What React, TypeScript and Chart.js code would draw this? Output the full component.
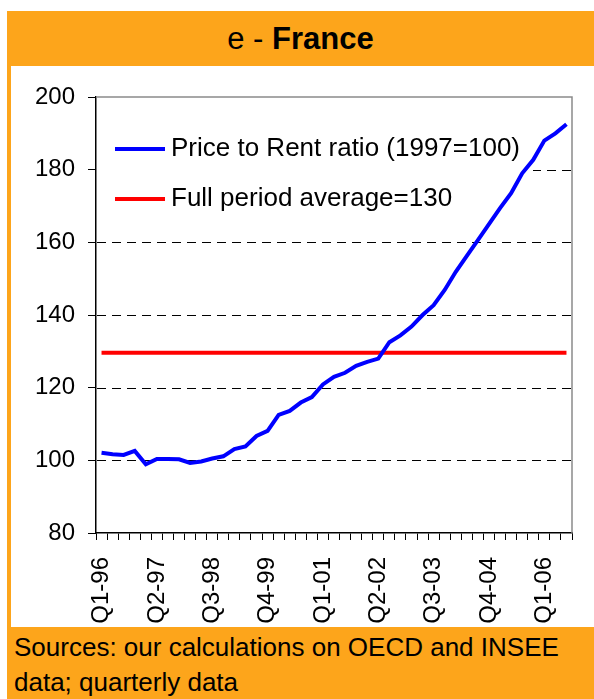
import React, { useEffect, useRef } from "react";
import { Chart, registerables } from "chart.js";

Chart.register(...registerables);

const quarterLabels = [
  "Q1-96", "Q2-96", "Q3-96", "Q4-96",
  "Q1-97", "Q2-97", "Q3-97", "Q4-97",
  "Q1-98", "Q2-98", "Q3-98", "Q4-98",
  "Q1-99", "Q2-99", "Q3-99", "Q4-99",
  "Q1-00", "Q2-00", "Q3-00", "Q4-00",
  "Q1-01", "Q2-01", "Q3-01", "Q4-01",
  "Q1-02", "Q2-02", "Q3-02", "Q4-02",
  "Q1-03", "Q2-03", "Q3-03", "Q4-03",
  "Q1-04", "Q2-04", "Q3-04", "Q4-04",
  "Q1-05", "Q2-05", "Q3-05", "Q4-05",
  "Q1-06", "Q2-06", "Q3-06",
];

const priceToRent = [
  102.1, 101.7, 101.5, 102.6, 98.9, 100.4, 100.4, 100.3, 99.3, 99.7,
  100.5, 101.1, 103.1, 103.8, 106.7, 108.1, 112.5, 113.6, 115.9, 117.4,
  120.9, 123.0, 124.1, 126.0, 127.1, 128.0, 132.5, 134.4, 136.8, 140.0,
  142.7, 146.9, 151.9, 156.3, 160.6, 165.0, 169.4, 173.5, 179.0, 182.7,
  188.0, 190.0, 192.5,
];

const periodAverage = quarterLabels.map(() => 129.6);

const yGridValues = [100, 120, 140, 160, 180];

const seriesNames = ["Price to Rent ratio (1997=100)", "Full period average=130"];

const ORANGE = "#FDA51B";
const FONT = "Arial, 'Liberation Sans', sans-serif";

const frameAndLegend = {
  id: "frameAndLegend",
  beforeDatasetsDraw(chart: any) {
    const { ctx, chartArea } = chart;
    const y = chart.scales.y;
    ctx.save();
    ctx.strokeStyle = "#000";
    ctx.lineWidth = 1;
    ctx.setLineDash([9, 6]);
    yGridValues.forEach((v) => {
      const py = Math.round(y.getPixelForValue(v)) + 0.5;
      ctx.beginPath();
      ctx.moveTo(chartArea.left + 1, py);
      ctx.lineTo(chartArea.right, py);
      ctx.stroke();
    });
    ctx.setLineDash([]);
    ctx.strokeStyle = "#8a8a8a";
    ctx.lineWidth = 1.5;
    ctx.beginPath();
    ctx.moveTo(chartArea.left, chartArea.top);
    ctx.lineTo(chartArea.right, chartArea.top);
    ctx.lineTo(chartArea.right, chartArea.bottom);
    ctx.stroke();
    ctx.fillStyle = "#fff";
    ctx.fillRect(chartArea.left + 1, chartArea.top + 1, 436, 127);
    chart.data.datasets.forEach((ds: any, i: number) => {
      const ly = chartArea.top + 52 + i * 50;
      ctx.strokeStyle = ds.borderColor;
      ctx.lineWidth = 4;
      ctx.beginPath();
      ctx.moveTo(chartArea.left + 19, ly);
      ctx.lineTo(chartArea.left + 69, ly);
      ctx.stroke();
      ctx.fillStyle = "#000";
      ctx.font = `26px ${FONT}`;
      ctx.textBaseline = "middle";
      ctx.textAlign = "left";
      ctx.fillText(ds.label, chartArea.left + 75, ly);
    });
    ctx.restore();
  },
};

export default function App() {
  const canvasRef = useRef<HTMLCanvasElement | null>(null);

  useEffect(() => {
    if (!canvasRef.current) return;
    const chart = new Chart(canvasRef.current, {
      type: "line",
      data: {
        labels: quarterLabels,
        datasets: [
          {
            label: seriesNames[0],
            data: priceToRent,
            borderColor: "#0000FF",
            borderWidth: 4,
            pointRadius: 0,
            tension: 0,
            fill: false,
          },
          {
            label: seriesNames[1],
            data: periodAverage,
            borderColor: "#FF0000",
            borderWidth: 4,
            pointRadius: 0,
            tension: 0,
            fill: false,
          },
        ],
      },
      options: {
        responsive: false,
        animation: false,
        layout: { padding: { left: 0, top: 97, right: 22, bottom: 0 } },
        plugins: {
          legend: { display: false },
          tooltip: { enabled: false },
          title: { display: false },
        },
        scales: {
          x: {
            type: "category",
            offset: true,
            grid: {
              offset: true,
              drawOnChartArea: false,
              drawTicks: true,
              tickLength: 7,
              color: "#000",
              lineWidth: 1,
            },
            border: { display: true, color: "#000", width: 1.5 },
            ticks: {
              autoSkip: false,
              minRotation: 90,
              maxRotation: 90,
              padding: 17,
              color: "#000",
              font: { family: FONT, size: 24 },
              callback: (_v: any, i: number) => (i % 5 === 0 ? quarterLabels[i] : ""),
            },
            afterFit: (scale: any) => {
              scale.height = 166;
              scale.paddingLeft = 0;
              scale.paddingRight = 0;
            },
          },
          y: {
            min: 80,
            max: 200,
            grid: {
              drawOnChartArea: false,
              drawTicks: true,
              tickLength: 8,
              color: "#000",
              lineWidth: 1,
            },
            border: { display: true, color: "#000", width: 1.5 },
            ticks: {
              stepSize: 20,
              padding: 13,
              color: "#000",
              font: { family: FONT, size: 24 },
            },
            afterFit: (scale: any) => {
              scale.width = 96;
            },
          },
        },
      },
      plugins: [frameAndLegend],
    });
    return () => chart.destroy();
  }, []);

  return (
    <div
      style={{
        position: "fixed",
        left: 0,
        top: 0,
        width: 594,
        height: 699,
        background: "#fff",
        fontFamily: FONT,
        overflow: "hidden",
      }}
    >
      <div style={{ position: "absolute", left: 7, top: 11, width: 587, height: 688, background: ORANGE }} />
      <div style={{ position: "absolute", left: 11, top: 66, width: 583, height: 561, background: "#fff" }} />
      <div
        style={{
          position: "absolute",
          left: 7,
          top: 11,
          width: 587,
          height: 55,
          display: "flex",
          alignItems: "center",
          justifyContent: "center",
          fontSize: 31,
          color: "#000",
          whiteSpace: "pre",
        }}
      >
        <span>e - </span>
        <b>France</b>
      </div>
      <div
        style={{
          position: "absolute",
          left: 14,
          top: 630,
          fontSize: 26,
          lineHeight: "35px",
          color: "#000",
        }}
      >
        Sources: our calculations on OECD and INSEE
        <br />
        data; quarterly data
      </div>
      <canvas
        ref={canvasRef}
        width={594}
        height={699}
        style={{ position: "absolute", left: 0, top: 0, width: 594, height: 699 }}
      />
    </div>
  );
}
